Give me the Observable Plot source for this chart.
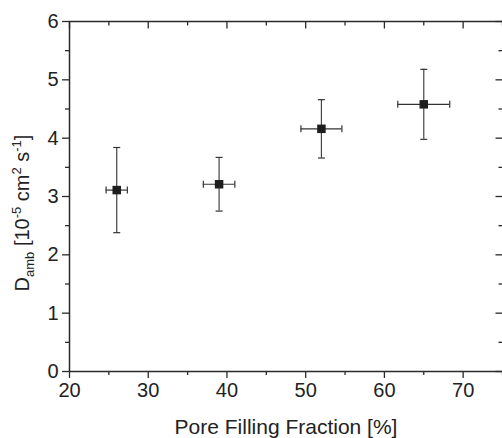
<!DOCTYPE html>
<html><head><meta charset="utf-8">
<script src="https://cdn.jsdelivr.net/npm/d3@7"></script>
<script src="https://cdn.jsdelivr.net/npm/@observablehq/plot@0.6"></script>
<style>body{margin:0;background:#fff} svg{display:block}</style>
</head><body><div id="chart"></div>
<script>
// data
const poreFilling = [26, 39, 52, 65];          // %
const poreErr     = [1.35, 2.0, 2.6, 3.3];     // ± %
const dAmb        = [3.11, 3.21, 4.16, 4.58];  // 10^-5 cm^2 s^-1
const dAmbErr     = [0.73, 0.46, 0.50, 0.60];  // ±
const xMajor = [20, 30, 40, 50, 60, 70];
const xMinor = [25, 35, 45, 55, 65, 75];
const yMajor = [0, 1, 2, 3, 4, 5, 6];
const yMinor = [0.5, 1.5, 2.5, 3.5, 4.5, 5.5];
const xLabel = "Pore Filling Fraction [%]";

const data = poreFilling.map((x, i) => ({x, xe: poreErr[i], y: dAmb[i], ye: dAmbErr[i]}));

const FONT = "'Liberation Sans', Arial, Helvetica, sans-serif";
const AX = "#2a2a2a";
const seg = (x1, y1, x2, y2) => ({draw(ctx) { ctx.moveTo(x1, y1); ctx.lineTo(x2, y2); }});
const capV = seg(-3.5, 0, 3.5, 0);
const capH = seg(0, -3.5, 0, 3.5);

const plot = Plot.plot({
  width: 502, height: 438,
  marginLeft: 69, marginRight: 0, marginTop: 21, marginBottom: 67,
  style: {fontFamily: FONT, background: "#fff", color: "#222"},
  x: {domain: [20, 75]},
  y: {domain: [0, 6]},
  marks: [
    // axis lines
    Plot.ruleY([0, 6], {stroke: AX, strokeWidth: 1.5}),
    Plot.ruleX([20], {stroke: AX, strokeWidth: 1.5}),
    // left & bottom axes (outward ticks)
    Plot.axisX({ticks: xMajor, tickSize: 7, tickPadding: 4, tickFormat: d3.format("d"), fontSize: 20, stroke: AX, strokeWidth: 1.3, fill: "#222", label: null}),
    Plot.axisX({ticks: xMinor, tickSize: 4, tickFormat: () => "", stroke: AX, strokeWidth: 1.3, label: null}),
    Plot.axisY({ticks: yMajor, tickSize: 7, tickPadding: 4, tickFormat: d3.format("d"), fontSize: 20, stroke: AX, strokeWidth: 1.3, fill: "#222", label: null}),
    Plot.axisY({ticks: yMinor, tickSize: 4, tickFormat: () => "", stroke: AX, strokeWidth: 1.3, label: null}),
    // top & right inward ticks
    Plot.dot(xMajor, {x: d => d, y: () => 6, symbol: seg(0, 0, 0, 7), fill: "none", stroke: AX, strokeWidth: 1.3}),
    Plot.dot(xMinor, {x: d => d, y: () => 6, symbol: seg(0, 0, 0, 4), fill: "none", stroke: AX, strokeWidth: 1.3}),
    Plot.dot(yMajor, {x: () => 75, y: d => d, symbol: seg(0, 0, -7, 0), fill: "none", stroke: AX, strokeWidth: 1.3}),
    Plot.dot(yMinor, {x: () => 75, y: d => d, symbol: seg(0, 0, -4, 0), fill: "none", stroke: AX, strokeWidth: 1.3}),
    // error bars
    Plot.ruleX(data, {x: "x", y1: d => d.y - d.ye, y2: d => d.y + d.ye, stroke: "#444", strokeWidth: 1.2}),
    Plot.ruleY(data, {y: "y", x1: d => d.x - d.xe, x2: d => d.x + d.xe, stroke: "#333", strokeWidth: 1.2}),
    Plot.dot(data, {x: "x", y: d => d.y + d.ye, symbol: capV, fill: "none", stroke: "#333", strokeWidth: 1.2}),
    Plot.dot(data, {x: "x", y: d => d.y - d.ye, symbol: capV, fill: "none", stroke: "#333", strokeWidth: 1.2}),
    Plot.dot(data, {x: d => d.x - d.xe, y: "y", symbol: capH, fill: "none", stroke: "#333", strokeWidth: 1.2}),
    Plot.dot(data, {x: d => d.x + d.xe, y: "y", symbol: capH, fill: "none", stroke: "#333", strokeWidth: 1.2}),
    // markers
    Plot.dot(data, {x: "x", y: "y", symbol: "square", r: 4.8, fill: "#1e1e1e", stroke: "none"}),
    // x label
    Plot.text([xLabel], {text: d => d, frameAnchor: "bottom", dy: 56, lineAnchor: "middle", fontSize: 21, fill: "#222"})
  ]
});

// y label with sub/superscripts
const svg = d3.select(plot);
const t = svg.append("text")
  .attr("transform", "translate(29,213) rotate(-90)")
  .attr("text-anchor", "middle")
  .attr("fill", "#222")
  .style("font-family", FONT)
  .style("font-size", "20px");
const parts = [
  ["D", 0], ["amb", -1], [" [10", 0], ["-5", 1], [" cm", 0], ["2", 1], [" s", 0], ["-1", 1], ["]", 0]
];
let prev = 0;
for (const [s, lvl] of parts) {
  const shift = lvl === 1 ? -8 : lvl === -1 ? 5 : 0;
  t.append("tspan")
    .attr("dy", shift - prev)
    .style("font-size", lvl ? "13px" : "20px")
    .text(s);
  prev = shift;
}
document.getElementById("chart").appendChild(plot);
</script>
</body></html>
